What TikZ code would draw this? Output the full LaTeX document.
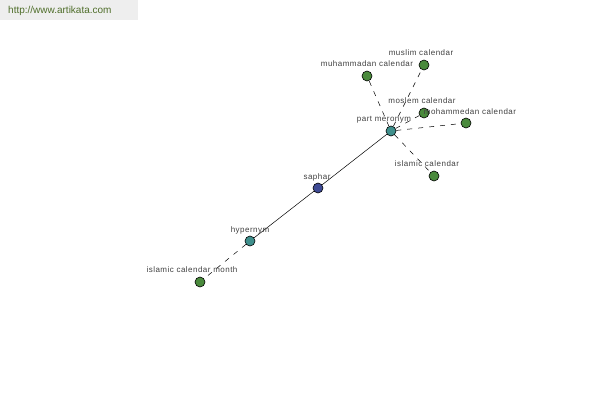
\documentclass[tikz,border=0pt]{standalone}
\usepackage{fontspec}
\setmainfont{Liberation Sans}
\newfontfamily\tagfont[LetterSpace=6]{Liberation Sans}
\definecolor{leaf}{HTML}{4A8A3C}
\definecolor{rel}{HTML}{3F8F8C}
\definecolor{word}{HTML}{3E4A94}
\definecolor{banner}{HTML}{EEEEEE}
\definecolor{link}{HTML}{4F6E2A}
\tikzset{
  dot/.style={circle,draw=black,line width=0.6pt,minimum size=10pt,inner sep=0pt},
  tag/.style={font=\tagfont\fontsize{8}{9}\selectfont,text=black!75,inner sep=0pt},
  dash link/.style={dash pattern=on 5pt off 6pt,line width=0.5pt},
  solid link/.style={line width=0.5pt}
}
\begin{document}
\begin{tikzpicture}[x=1pt,y=-1pt]
  \useasboundingbox (0,0) rectangle (600,400);
  \fill[banner] (0,0) rectangle (138,20);
  \node[anchor=west,inner sep=0pt,font=\fontsize{10}{11}\selectfont,text=link] (site) at (8,11) {http://www.artikata.com};
  % nodes
  \node[dot,fill=rel]  (meronym) at (391,131) {};
  \node[dot,fill=word] (saphar) at (318,188) {};
  \node[dot,fill=rel]  (hypernym) at (250,241) {};
  \node[dot,fill=leaf] (month) at (200,282) {};
  \node[dot,fill=leaf] (muhammadan) at (367,76) {};
  \node[dot,fill=leaf] (muslim) at (424,65) {};
  \node[dot,fill=leaf] (moslem) at (424,113) {};
  \node[dot,fill=leaf] (mohammedan) at (466,123) {};
  \node[dot,fill=leaf] (islamic) at (434,176) {};
  % links
  \draw[solid link] (meronym) -- (saphar) -- (hypernym);
  \draw[dash link] (hypernym) -- (month);
  \foreach \n in {muhammadan,muslim,moslem,mohammedan,islamic}
    \draw[dash link] (meronym) -- (\n);
  % labels
  \node[tag] (tmeronym) at (384,120) {part meronym};
  \node[tag] (tsaphar) at (317,177) {saphar};
  \node[tag] (thypernym) at (250,230) {hypernym};
  \node[tag] (tmonth) at (192,270) {islamic calendar month};
  \node[tag] (tmuhammadan) at (367,64) {muhammadan calendar};
  \node[tag] (tmuslim) at (421,53) {muslim calendar};
  \node[tag] (tmoslem) at (422,101) {moslem calendar};
  \node[tag] (tmohammedan) at (470,112) {mohammedan calendar};
  \node[tag] (tislamic) at (427,164) {islamic calendar};
\end{tikzpicture}
\end{document}
